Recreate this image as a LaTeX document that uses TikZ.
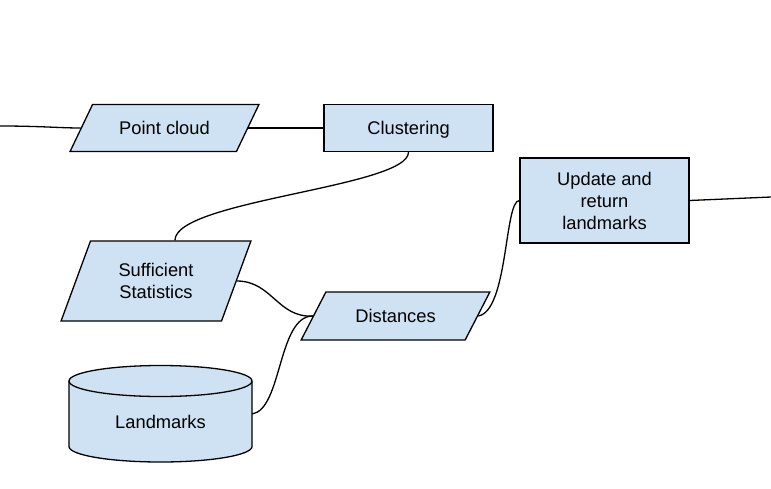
\documentclass[tikz,border=0pt]{standalone}
\usepackage{fontspec}
\setmainfont{Liberation Sans}
\usetikzlibrary{shapes.geometric}
\definecolor{boxfill}{HTML}{CFE2F3}
\tikzset{
  box/.style={draw=black, fill=boxfill, line width=1.3pt, rectangle, align=center, inner sep=0pt},
  para/.style={draw=black, fill=boxfill, line width=1.3pt, trapezium, trapezium stretches=true,
     trapezium left angle=#1, trapezium right angle=180-#1, align=center, inner sep=0pt},
  one/.style={text height=16pt, text depth=3pt},
  conn/.style={line width=1.3pt, black},
  every node/.style={font=\fontsize{18.3}{22}\selectfont}
}
\begin{document}
\begin{tikzpicture}[x=1pt,y=-1pt]
\useasboundingbox (0,0) rectangle (771,488);
% nodes
\node[para=53.3, one, minimum width=189, minimum height=47] (pc) at (164.5,128) {Point cloud};
\node[box, one, minimum width=169, minimum height=47] (clus) at (408.5,128) {Clustering};
\node[para=64.6, minimum width=190, minimum height=80] (suff) at (156,281) {Sufficient\\Statistics};
\node[para=53.1, one, minimum width=189, minimum height=48] (dist) at (395.5,316) {Distances};
\node[box, minimum width=169, minimum height=85] (upd) at (604.5,200.5) {Update and\\return\\landmarks};
% cylinder
\filldraw[fill=boxfill, draw=black, line width=1.3pt]
  (69,381) -- (69,446.5) arc[start angle=180, end angle=0, x radius=91.5, y radius=15.5] -- (252,381);
\filldraw[fill=boxfill, draw=black, line width=1.3pt] (160.5,381) ellipse[x radius=91.5, y radius=15.5];
\node[minimum width=183, minimum height=96, inner sep=0pt, label={[yshift=-8pt]center:Landmarks}] (land) at (160.5,414) {};
% free ends
\coordinate (inL) at (0,126);
\coordinate (outR) at (771,197);
% connectors
\draw[conn] (inL) .. controls (40,126) and (60,128) .. (pc.left side);
\draw[conn] (pc.right side) -- (clus.west);
\draw[conn] (clus.south) .. controls +(0,35) and +(0,-40) .. ([xshift=4pt]suff.top side);
\draw[conn] (suff.right side) .. controls +(35,0) and +(-35,2) .. (dist.left side);
\draw[conn] (land.east) .. controls +(30,-5) and +(-35,0) .. (dist.left side);
\draw[conn] (dist.right side) .. controls +(30,-5) and +(-15,0) .. (upd.west);
\draw[conn] (upd.east) -- (outR);
\end{tikzpicture}
\end{document}
